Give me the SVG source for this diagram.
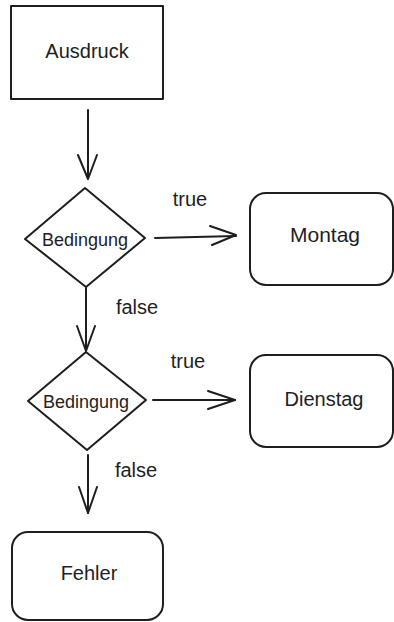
<svg xmlns="http://www.w3.org/2000/svg" width="394" height="622" viewBox="0 0 394 622">
<style>
.shape{fill:#ffffff;stroke:#1e1e1e;stroke-width:2;stroke-linejoin:round}
.line{fill:none;stroke:#1e1e1e;stroke-width:2;stroke-linecap:round;stroke-linejoin:round}
.t{font-family:"Liberation Sans","DejaVu Sans",sans-serif;font-size:20px;fill:#1e1e1e;text-anchor:middle}
.s{font-size:18px}
</style>
<rect width="394" height="622" fill="#ffffff"/>
<g id="connectors">
<g id="c1"><path class="line" d="M88 110 L88 178"/><path class="line" d="M78 155 L88 179 L97 155"/></g>
<g id="c2"><path class="line" d="M155 238 L236 236"/><path class="line" d="M210 226 L236 235 L212 245"/></g>
<g id="c3"><path class="line" d="M86 288 L86 350"/><path class="line" d="M77 326 L86 351 L95 326"/></g>
<g id="c4"><path class="line" d="M153 400 L235 400"/><path class="line" d="M208 391 L235 400 L208 409"/></g>
<g id="c5"><path class="line" d="M88 455 L88 513"/><path class="line" d="M79 487 L88 513 L97 487"/></g>
<text class="t" x="190" y="206">true</text>
<text class="t" x="137" y="314">false</text>
<text class="t" x="188" y="368">true</text>
<text class="t" x="136" y="477">false</text>
</g>
<g id="ausdruck">
<rect class="shape" x="11" y="6" width="152" height="93"/>
<text class="t" x="87" y="58">Ausdruck</text>
</g>
<g id="bedingung1">
<polygon class="shape" points="85,188 145,238 86,287 25,239"/>
<text class="t s" x="85" y="246">Bedingung</text>
</g>
<g id="montag">
<rect class="shape" x="250" y="193" width="143" height="92" rx="16"/>
<text class="t" x="325" y="242" style="font-size:21px">Montag</text>
</g>
<g id="bedingung2">
<polygon class="shape" points="86,352 146,400 87,450 28,401"/>
<text class="t s" x="86" y="408">Bedingung</text>
</g>
<g id="dienstag">
<rect class="shape" x="250" y="355" width="143" height="92" rx="16"/>
<text class="t" x="324" y="406">Dienstag</text>
</g>
<g id="fehler">
<rect class="shape" x="12" y="532" width="151" height="88" rx="16"/>
<text class="t" x="89" y="580">Fehler</text>
</g>
</svg>
